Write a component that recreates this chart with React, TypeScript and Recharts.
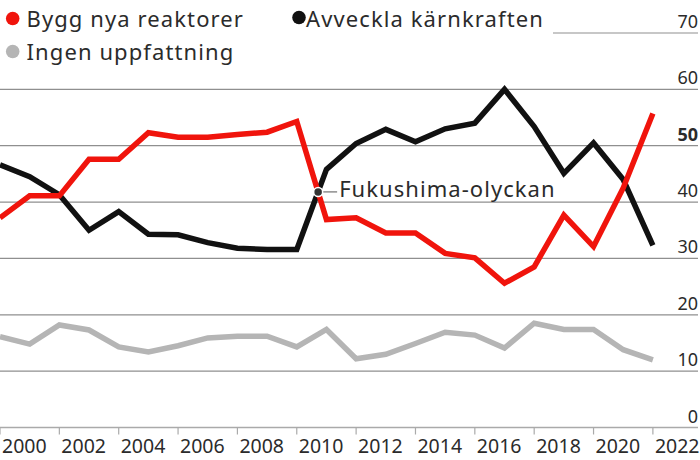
import React from 'react';
import { LineChart, Line, XAxis, YAxis, CartesianGrid, ReferenceDot } from 'recharts';

const years = [2000, 2001, 2002, 2003, 2004, 2005, 2006, 2007, 2008, 2009, 2010, 2011, 2012, 2013, 2014, 2015, 2016, 2017, 2018, 2019, 2020, 2021, 2022];
const byggNya = [37.2, 41.1, 41.1, 47.6, 47.6, 52.3, 51.5, 51.5, 52.0, 52.4, 54.3, 36.9, 37.2, 34.5, 34.5, 30.9, 30.1, 25.6, 28.5, 37.7, 32.1, 42.5, 55.7];
const avveckla = [46.6, 44.5, 41.3, 35.0, 38.3, 34.3, 34.2, 32.8, 31.8, 31.6, 31.6, 45.8, 50.4, 52.9, 50.7, 53.0, 54.0, 60.0, 53.4, 45.1, 50.5, 44.0, 32.3];
const ingen = [16.1, 14.8, 18.2, 17.3, 14.3, 13.4, 14.5, 15.9, 16.2, 16.2, 14.3, 17.4, 12.2, 13.0, 14.9, 16.9, 16.4, 14.1, 18.5, 17.4, 17.4, 13.8, 12.0];
const yTicks = [0, 10, 20, 30, 40, 50, 60, 70];
const xTicks = [2000, 2002, 2004, 2006, 2008, 2010, 2012, 2014, 2016, 2018, 2020, 2022];
const seriesNames = ['Bygg nya reaktorer', 'Avveckla kärnkraften', 'Ingen uppfattning'];
const annotation = { text: 'Fukushima-olyckan', x: 2010.72, y: 41.8 };

const RED = '#f0140c';
const BLACK = '#111111';
const GREY = '#b5b5b5';
const TEXT = '#2b2b2b';
const FONT = '"Noto Sans", sans-serif';

const data = years.map((year, i) => ({ year, bygg: byggNya[i], avveckla: avveckla[i], ingen: ingen[i] }));

const YTick = (props: any) => {
  const { y, payload } = props;
  return (
    <text x={698} y={y - 5} textAnchor="end" fontSize={18} fill={TEXT} fontFamily={FONT} fontWeight={payload.value === 50 ? 700 : 400}>
      {payload.value}
    </text>
  );
};

const XTick = (props: any) => {
  const { x, y, payload } = props;
  return (
    <text x={x + 2} y={y + 16} textAnchor="start" fontSize={19.5} fill={TEXT} fontFamily={FONT}>
      {payload.value}
    </text>
  );
};

const AnnotationShape = (props: any) => {
  const { cx, cy } = props;
  return (
    <g>
      <line x1={cx + 4} y1={cy} x2={cx + 19} y2={cy} stroke="#555" strokeWidth={1} />
      <circle cx={cx} cy={cy} r={4.5} fill="#333" stroke="#fff" strokeWidth={1.5} />
      <text x={cx + 21} y={cy + 5} fontSize={22} letterSpacing={1.05} fill={TEXT} fontFamily={FONT}>{annotation.text}</text>
    </g>
  );
};

const legendItems = [
  { color: RED, label: seriesNames[0], cx: 12.7, cy: 18.5, tx: 26.5, ty: 27.3 },
  { color: BLACK, label: seriesNames[1], cx: 299, cy: 17.5, tx: 306, ty: 27.3 },
  { color: GREY, label: seriesNames[2], cx: 12.7, cy: 51.5, tx: 26.5, ty: 60 },
];

const LegendOverlay = () => (
  <svg width={553} height={70} style={{ display: 'block', position: 'absolute', left: 0, top: 0 }}>
    <rect x={0} y={0} width={553} height={70} fill="#fff" />
    {legendItems.map((it) => (
      <g key={it.label}>
        <circle cx={it.cx} cy={it.cy} r={6.8} fill={it.color} />
        <text x={it.tx} y={it.ty} fontSize={22} letterSpacing={1.1} fill={TEXT} fontFamily={FONT}>{it.label}</text>
      </g>
    ))}
  </svg>
);

export default function App() {
  return (
    <div style={{ position: 'absolute', left: 0, top: 0, width: 700, height: 460, background: '#fff' }}>
      <LineChart width={700} height={460} data={data} margin={{ top: 33, right: 0, left: 0, bottom: 0 }}>
        <CartesianGrid vertical={false} stroke="#8f8f8f" strokeWidth={1.2} />
        <XAxis
          dataKey="year"
          type="number"
          domain={[2000, 2023.52]}
          ticks={xTicks}
          height={32.5}
          tick={<XTick />}
          tickSize={7}
          tickLine={{ stroke: '#aaa', strokeWidth: 1.2 }}
          axisLine={{ stroke: '#aaa', strokeWidth: 1.5 }}
          interval={0}
          allowDataOverflow
        />
        <YAxis
          orientation="right"
          width={2}
          domain={[0, 70]}
          ticks={yTicks}
          tick={<YTick />}
          axisLine={false}
          tickLine={false}
          interval={0}
        />
        <Line dataKey="ingen" stroke={GREY} strokeWidth={5.5} dot={false} isAnimationActive={false} strokeLinejoin="miter" />
        <Line dataKey="avveckla" stroke={BLACK} strokeWidth={5.5} dot={false} isAnimationActive={false} strokeLinejoin="miter" />
        <Line dataKey="bygg" stroke={RED} strokeWidth={5.5} dot={false} isAnimationActive={false} strokeLinejoin="miter" />
        <ReferenceDot x={annotation.x} y={annotation.y} r={4.5} shape={<AnnotationShape />} />
      </LineChart>
      <LegendOverlay />
    </div>
  );
}
